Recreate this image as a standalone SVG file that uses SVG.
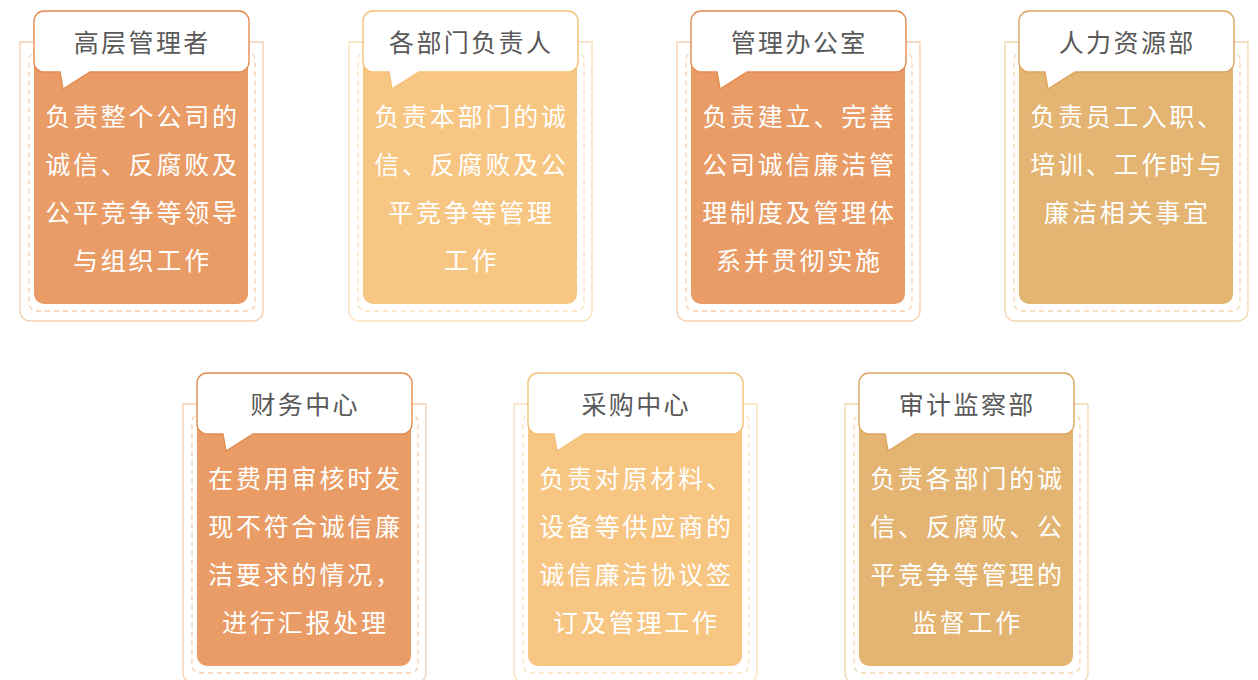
<svg xmlns="http://www.w3.org/2000/svg" width="1258" height="680" viewBox="0 0 1258 680">
<style>
.outer{fill:#fff;stroke:var(--o);stroke-width:1.3}
.dash{fill:none;stroke:var(--o);stroke-width:1.3;stroke-dasharray:5 4}
.body{fill:var(--b)}
.bub{fill:#fff;stroke:var(--s);stroke-width:1.4}
.ttl{font-family:"Noto Sans CJK SC","Noto Sans",sans-serif;font-size:25px;fill:#595959;text-anchor:middle;letter-spacing:2.4px}
.txt{font-family:"Noto Sans CJK SC","Noto Sans",sans-serif;font-size:25px;fill:#fff;text-anchor:middle;letter-spacing:2.8px}
.c1{--o:#F6CFAF;--b:#E99C66;--s:#E38B4F}
.c2{--o:#FBE0BA;--b:#F8C683;--s:#F5BF74}
.c3{--o:#F2D6AF;--b:#E3B472;--s:#DCA55F}
</style>
<defs>
<g id="frame">
<path class="outer" d="M-14,42 H229 V311 A10 10 0 0 1 219,321 H-4 A10 10 0 0 1 -14,311 Z"/>
<rect class="dash" x="-5" y="52" width="226" height="259" rx="8"/>
<rect class="body" x="0" y="30" width="214" height="274" rx="10"/>
<path class="bub" d="M10,11 H205 A10 10 0 0 1 215,21 V62 A10 10 0 0 1 205,72 H56 L29,89 L26,72 H10 A10 10 0 0 1 0,62 V21 A10 10 0 0 1 10,11 Z"/>
</g>
</defs>
<g id="connectors"></g>
<g id="n1" class="c1" transform="translate(34,0)">
<use href="#frame"/>
<text class="ttl" x="108.2" y="52">高层管理者</text>
<text class="txt" x="108.5" y="126">负责整个公司的</text>
<text class="txt" x="108.5" y="174">诚信、反腐败及</text>
<text class="txt" x="108.5" y="222">公平竞争等领导</text>
<text class="txt" x="108.5" y="270">与组织工作</text>
</g>
<g id="n2" class="c2" transform="translate(363,0)">
<use href="#frame"/>
<text class="ttl" x="108.2" y="52">各部门负责人</text>
<text class="txt" x="108.5" y="126">负责本部门的诚</text>
<text class="txt" x="108.5" y="174">信、反腐败及公</text>
<text class="txt" x="108.5" y="222">平竞争等管理</text>
<text class="txt" x="108.5" y="270">工作</text>
</g>
<g id="n3" class="c1" transform="translate(691,0)">
<use href="#frame"/>
<text class="ttl" x="108.2" y="52">管理办公室</text>
<text class="txt" x="108.5" y="126">负责建立、完善</text>
<text class="txt" x="108.5" y="174">公司诚信廉洁管</text>
<text class="txt" x="108.5" y="222">理制度及管理体</text>
<text class="txt" x="108.5" y="270">系并贯彻实施</text>
</g>
<g id="n4" class="c3" transform="translate(1019,0)">
<use href="#frame"/>
<text class="ttl" x="108.2" y="52">人力资源部</text>
<text class="txt" x="108.5" y="126">负责员工入职、</text>
<text class="txt" x="108.5" y="174">培训、工作时与</text>
<text class="txt" x="108.5" y="222">廉洁相关事宜</text>
</g>
<g id="n5" class="c1" transform="translate(197,362)">
<use href="#frame"/>
<text class="ttl" x="108.2" y="52">财务中心</text>
<text class="txt" x="108.5" y="126">在费用审核时发</text>
<text class="txt" x="108.5" y="174">现不符合诚信廉</text>
<text class="txt" x="108.5" y="222">洁要求的情况，</text>
<text class="txt" x="108.5" y="270">进行汇报处理</text>
</g>
<g id="n6" class="c2" transform="translate(528,362)">
<use href="#frame"/>
<text class="ttl" x="108.2" y="52">采购中心</text>
<text class="txt" x="108.5" y="126">负责对原材料、</text>
<text class="txt" x="108.5" y="174">设备等供应商的</text>
<text class="txt" x="108.5" y="222">诚信廉洁协议签</text>
<text class="txt" x="108.5" y="270">订及管理工作</text>
</g>
<g id="n7" class="c3" transform="translate(859,362)">
<use href="#frame"/>
<text class="ttl" x="108.2" y="52">审计监察部</text>
<text class="txt" x="108.5" y="126">负责各部门的诚</text>
<text class="txt" x="108.5" y="174">信、反腐败、公</text>
<text class="txt" x="108.5" y="222">平竞争等管理的</text>
<text class="txt" x="108.5" y="270">监督工作</text>
</g>
</svg>
